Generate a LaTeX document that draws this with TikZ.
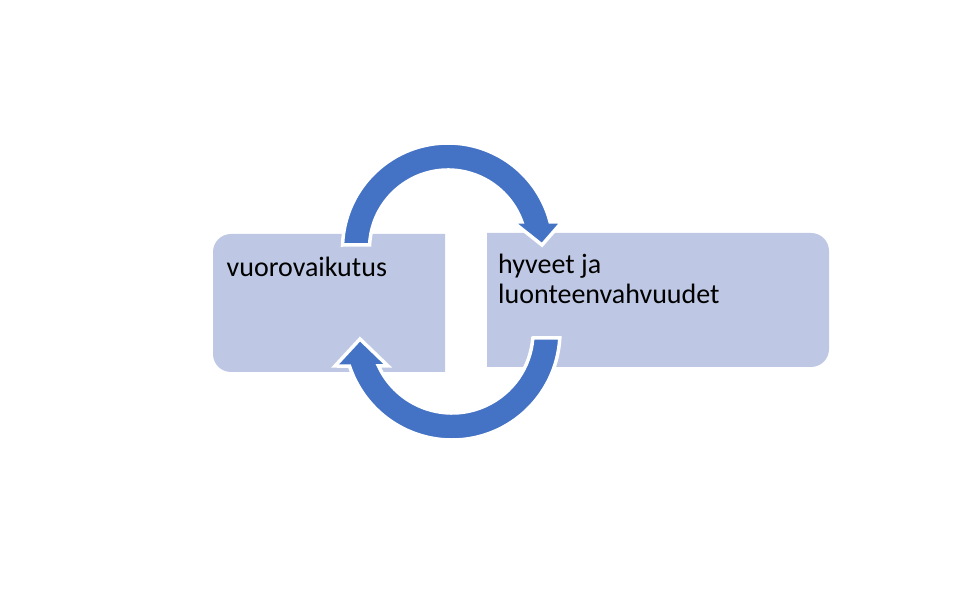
\documentclass[tikz,border=0pt]{standalone}
\usepackage{fontspec}
\setmainfont{Carlito}
\definecolor{boxc}{RGB}{190,200,228}
\definecolor{arrowc}{RGB}{68,114,196}
\tikzset{
  boxshape/.style={fill=boxc, draw=none},
  cyclearrow/.style={fill=arrowc, draw=white, line width=3.5pt, line join=miter},
  label/.style={inner sep=0pt, text=black, font=\fontsize{28}{29.3}\selectfont, align=left}
}
\begin{document}
\begin{tikzpicture}[x=1pt,y=1pt]
\useasboundingbox (0,0) rectangle (960,605);
% boxes
\path[boxshape] (445,233) -- (445,371) -- (231,371)
  arc[start angle=90,end angle=180,radius=18] -- (213,251)
  arc[start angle=180,end angle=270,radius=18] -- cycle;
\path[boxshape] (487,238) -- (487,372) -- (811,372)
  arc[start angle=90,end angle=0,radius=18] -- (829,256)
  arc[start angle=0,end angle=-90,radius=18] -- cycle;
% labels
\node[label, anchor=base west] (vuoro) at (226.5,328.3) {vuorovaikutus};
\node[label, anchor=base west] (hyveet) at (498,301.7) {hyveet ja\\luonteenvahvuudet};
% arc centres
\coordinate (c1) at (448,356.5);
\coordinate (c2) at (452,273);
% top arrow (left box -> right box)
\path[cyclearrow] ([shift={(177.44:78.5)}]c1) -- ([shift={(178.1:105.5)}]c1)
  arc[start angle=178.1, end angle=14.55, radius=105.5]
  -- (562,383) -- (542,360) -- (513,383) -- (521.9,383)
  arc[start angle=19.73, end angle=177.44, radius=78.5] -- cycle;
% bottom arrow (right box -> left box)
\path[cyclearrow] (532.8,267) -- (559.8,267)
  arc[start angle=-3.18, end angle=-161.65, radius=108]
  -- (335,239) -- (360,266) -- (388,239) -- (378.5,239)
  arc[start angle=-155.18, end angle=-4.25, radius=81] -- cycle;
\end{tikzpicture}
\end{document}
